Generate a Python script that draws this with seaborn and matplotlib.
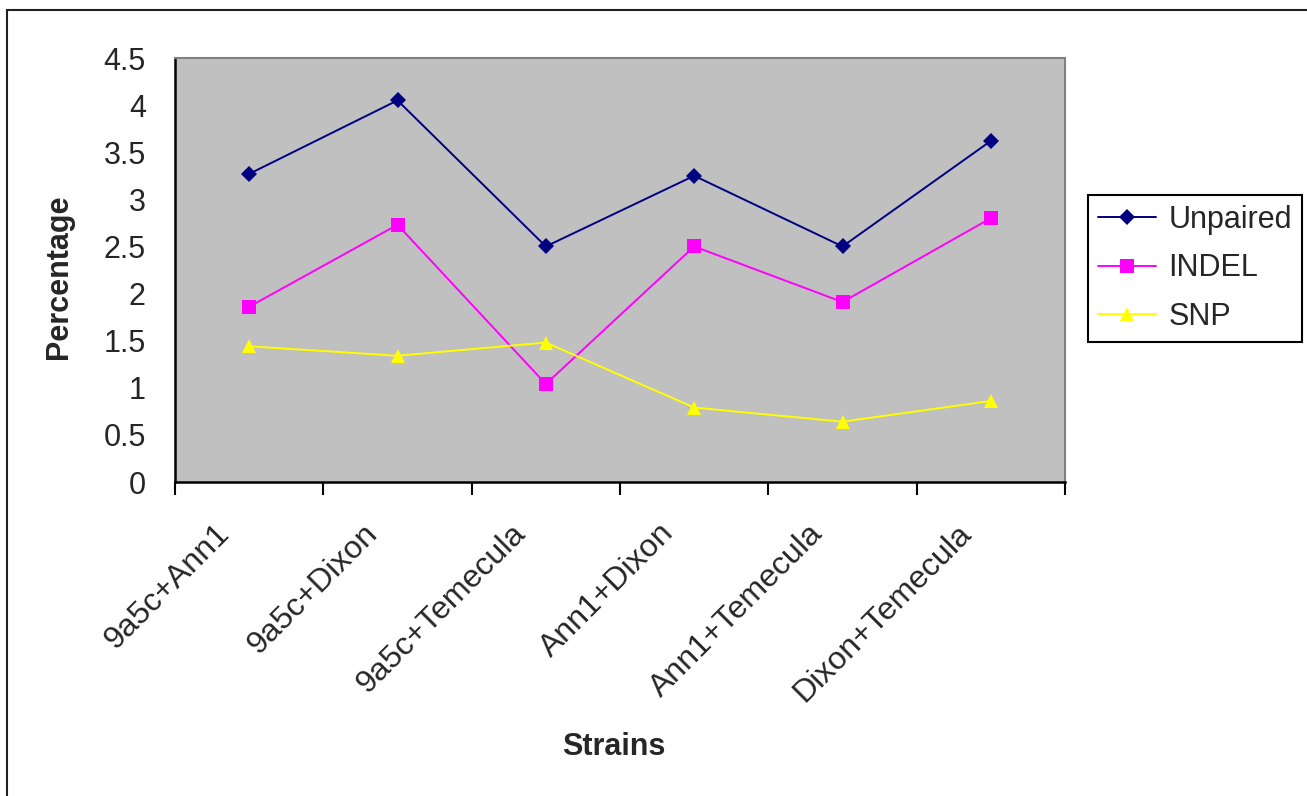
import matplotlib
matplotlib.use("Agg")
import matplotlib.pyplot as plt
import matplotlib.patches as mpatches
import matplotlib.transforms as mtransforms
from matplotlib.ticker import FixedLocator, MultipleLocator
import seaborn as sns
import pandas as pd
import numpy as np

categories = ["9a5c+Ann1", "9a5c+Dixon", "9a5c+Temecula", "Ann1+Dixon", "Ann1+Temecula", "Dixon+Temecula"]
unpaired = [3.27, 4.05, 2.50, 3.25, 2.50, 3.62]
indel = [1.86, 2.73, 1.04, 2.50, 1.91, 2.80]
snp = [1.44, 1.34, 1.48, 0.79, 0.64, 0.86]
series_names = ["Unpaired", "INDEL", "SNP"]

rows = []
for name, vals in zip(series_names, [unpaired, indel, snp]):
    for i, v in enumerate(vals):
        rows.append({"idx": i, "Strains": categories[i], "value": v, "series": name})
df = pd.DataFrame(rows)

sns.set_theme(style="white")
plt.rcParams['font.family'] = ['Liberation Sans', 'DejaVu Sans']

fig = plt.figure(figsize=(13.07, 7.96), dpi=100)
ax = fig.add_axes([175/1307, 1-482/796, (1065-175)/1307, (482-58)/796])
ax.set_facecolor("#C0C0C0")

palette = {"Unpaired": "#000080", "INDEL": "#FF00FF", "SNP": "#FFFF00"}
markers = {"Unpaired": "D", "INDEL": "s", "SNP": "^"}
sns.lineplot(data=df, x="idx", y="value", hue="series", style="series",
             palette=palette, markers=markers, dashes=False, ax=ax,
             linewidth=1.4, markersize=10, markeredgewidth=0, legend=True)

for line in ax.get_lines():
    if line.get_marker() == "D":
        line.set_markersize(8.5)

ax.set_xlim(-0.5, len(categories) - 0.5)
ax.set_ylim(0, 4.5)
ax.yaxis.set_major_locator(MultipleLocator(0.5))
ax.set_yticklabels([("%g" % t) for t in ax.get_yticks()])
ax.set_xticks(range(len(categories)))
ax.set_xticklabels(categories, rotation=45, ha="right", rotation_mode="anchor", fontsize=23)
ax.xaxis.set_minor_locator(FixedLocator(np.arange(-0.5, len(categories), 1.0)))
ax.tick_params(axis="x", which="major", length=0, pad=26)
ax.tick_params(axis="x", which="minor", length=9, width=1.5, color="black", direction="out", bottom=True)
ax.tick_params(axis="y", which="major", length=10, width=1.5, color="black", direction="out", labelsize=22, pad=11)

offset = mtransforms.ScaledTranslation(-0.35, 0, fig.dpi_scale_trans)
for lbl in ax.get_xticklabels():
    lbl.set_transform(lbl.get_transform() + offset)

for s in ["top", "right"]:
    ax.spines[s].set_color("#808080")
    ax.spines[s].set_linewidth(1.5)
for s in ["left", "bottom"]:
    ax.spines[s].set_color("black")
    ax.spines[s].set_linewidth(1.8)

ax.set_xlabel("Strains", fontsize=22, fontweight="bold")
ax.set_ylabel("Percentage", fontsize=22, fontweight="bold")
ax.xaxis.set_label_coords((614-175)/890, -0.590)
ax.yaxis.set_label_coords(-0.1135, 0.4835)
ax.grid(False)

handles, labels = ax.get_legend_handles_labels()
leg = ax.legend(handles, labels, loc="upper left", bbox_to_anchor=(1088/1307, 1-195/796),
                bbox_transform=fig.transFigure, frameon=True, fancybox=False,
                fontsize=22, borderpad=0.33, handlelength=1.9, handletextpad=0.4,
                labelspacing=0.6, borderaxespad=0)
leg.get_frame().set_edgecolor("black")
leg.get_frame().set_linewidth(1.5)
leg.get_frame().set_facecolor("white")
leg.get_frame().set_alpha(1)

fig.patches.append(mpatches.Rectangle((7/1307, -0.05), 1.2, 1 - 10/796 + 0.05,
                                      transform=fig.transFigure, fill=False,
                                      edgecolor="#202020", linewidth=1.5))

fig.savefig("out.png", dpi=100, facecolor="white")
